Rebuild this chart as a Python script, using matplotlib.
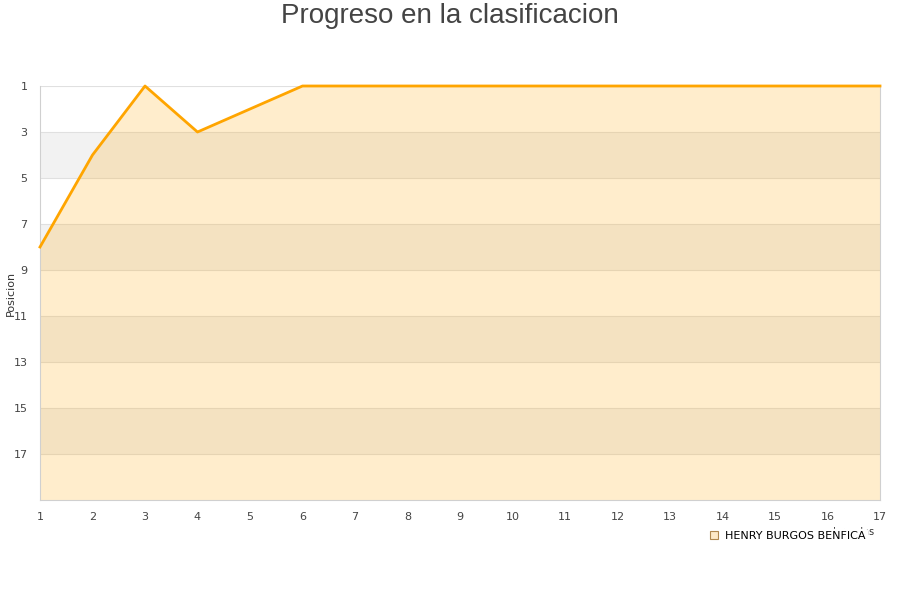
import numpy as np
import matplotlib.pyplot as plt
from matplotlib.lines import Line2D

jornadas = list(range(1, 18))
posicion = [8, 4, 1, 3, 2, 1, 1, 1, 1, 1, 1, 1, 1, 1, 1, 1, 1]
equipo = "HENRY BURGOS BENFICA"
y_ticks = list(range(1, 19, 2))


def plot_chart(path_to_save):
    plt.rcParams.update({'font.size': 8, 'font.family': 'DejaVu Sans'})
    fig = plt.figure(figsize=(9, 6), dpi=100)
    ax = fig.add_axes([40 / 900, 1 - 500 / 600, 840 / 900, 414 / 600])

    # bandas alternas de fondo
    for i, y0 in enumerate(range(1, 19, 2)):
        if i % 2 == 1:
            ax.axhspan(y0, y0 + 2, color='#f2f2f2', lw=0, zorder=0)
    for y in y_ticks:
        ax.axhline(y, color='#e0e0e0', lw=0.8, zorder=1)

    ax.fill_between(jornadas, posicion, 19, color='#ffa500', alpha=0.2, lw=0, zorder=2)
    ax.plot(jornadas, posicion, color='#ffa500', lw=2, zorder=3, clip_on=False)

    ax.set_xlim(1, 17)
    ax.set_ylim(19, 1)
    ax.set_xticks(jornadas)
    ax.set_yticks(y_ticks)
    ax.tick_params(length=0, colors='#444444', labelsize=8)
    ax.tick_params(axis='x', pad=9)
    ax.tick_params(axis='y', pad=9)
    for side in ['left', 'bottom', 'right']:
        ax.spines[side].set_color('#d0d0d0')
    ax.spines['top'].set_visible(False)

    fig.text(11 / 900, 1 - 293 / 600, "Posicion", rotation=90, ha='center', va='center',
             fontsize=8, color='#333333')
    fig.text(875 / 900, 1 - 532 / 600, "Jornadas", ha='right', va='center', fontsize=7, color='#333333')

    fig.suptitle("Progreso en la clasificacion", y=1 - 16 / 600, va='center', fontsize=20,
                 color='#444444', family='Liberation Sans')

    handle = Line2D([], [], marker='s', linestyle='none', markersize=6,
                    markerfacecolor='#fde9c8', markeredgecolor='#b08850', markeredgewidth=0.8)
    leg = fig.legend(handles=[handle], labels=[equipo], loc='center right',
                     bbox_to_anchor=(873 / 900, 1 - 536 / 600), frameon=True, fontsize=8,
                     handletextpad=0.4, borderpad=0.2, handlelength=1.2)
    leg.get_frame().set_facecolor('white')
    leg.get_frame().set_edgecolor('white')
    leg.get_frame().set_alpha(1)
    leg.set_zorder(10)

    plt.savefig(path_to_save + "/out.png")
    plt.close()


if __name__ == "__main__":
    plot_chart(".")
